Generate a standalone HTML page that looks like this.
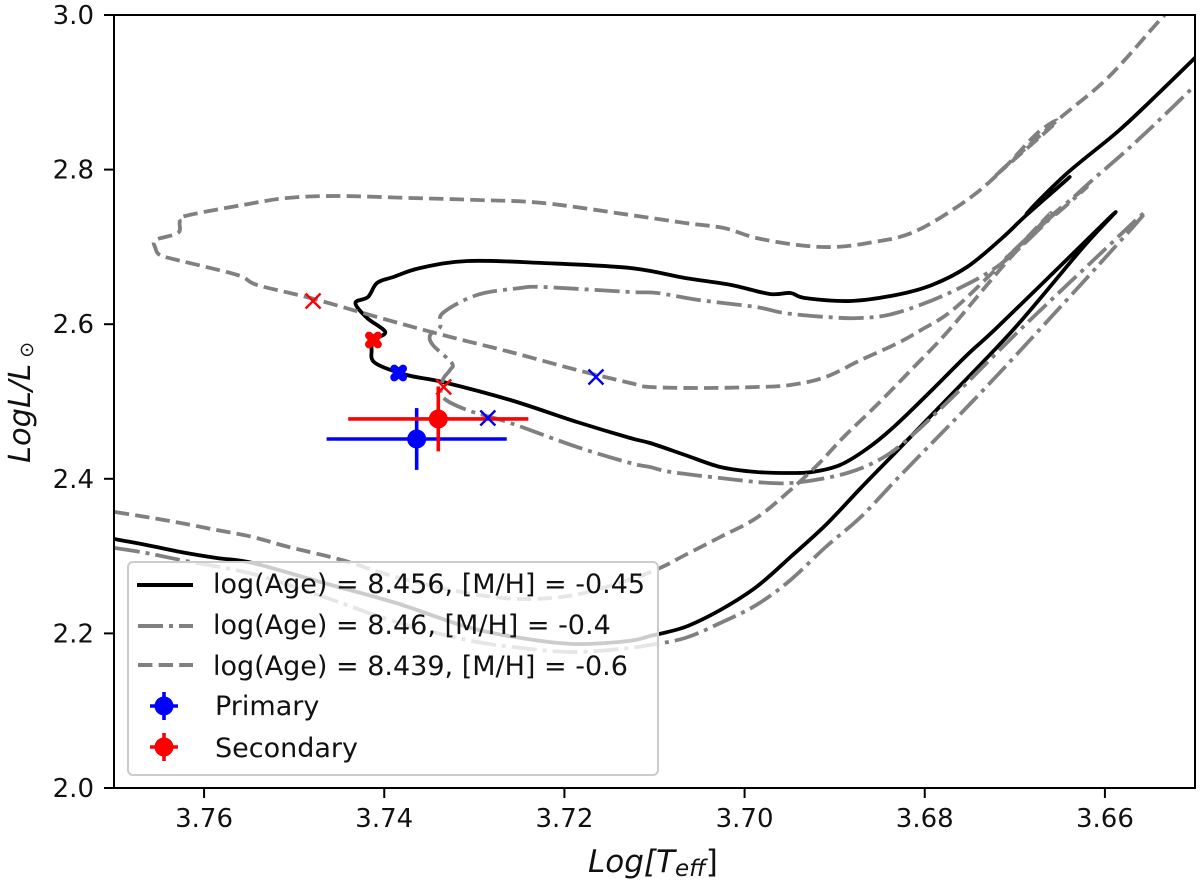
<!DOCTYPE html>
<html lang="en">
<head>
<meta charset="utf-8">
<title>HR diagram isochrones</title>
<style>
html,body{margin:0;padding:0;background:#fff;width:1200px;height:885px;overflow:hidden}
svg{display:block}
text{font-family:"DejaVu Sans","Liberation Sans",sans-serif;fill:#111}
</style>
</head>
<body>
<svg id="chart" xmlns="http://www.w3.org/2000/svg" width="1200" height="885" viewBox="0 0 1200 885">
  <defs><clipPath id="plot-clip"><rect x="114" y="15" width="1081" height="773"/></clipPath></defs>
  <rect x="114" y="15" width="1081" height="773" fill="#fff"/>
  <g id="series" clip-path="url(#plot-clip)"></g>
  <g id="markers" clip-path="url(#plot-clip)"></g>
  <g>
    <rect x="128" y="562" width="530" height="213" rx="5" ry="5" fill="#fff" fill-opacity="0.8" stroke="#ccc" stroke-width="2"/>
    <line x1="137" y1="585" x2="193" y2="585" stroke="#000" stroke-width="4"/>
    <text x="213" y="593" font-size="27">log(Age) = 8.456, [M/H] = -0.45</text>
    <line x1="138" y1="626" x2="193" y2="626" stroke="#808080" stroke-width="4" stroke-dasharray="25 6 4 6"/>
    <text x="213" y="634" font-size="27">log(Age) = 8.46, [M/H] = -0.4</text>
    <line x1="138" y1="665" x2="193" y2="665" stroke="#808080" stroke-width="4" stroke-dasharray="14.4 6.2"/>
    <text x="213" y="675" font-size="27">log(Age) = 8.439, [M/H] = -0.6</text>
    <g>
      <line x1="164" y1="692" x2="164" y2="720" stroke="#00f" stroke-width="3.6"/>
      <line x1="150" y1="706" x2="178" y2="706" stroke="#00f" stroke-width="3.6"/>
      <circle cx="164" cy="706" r="9.5" fill="#00f"/>
    </g>
    <text x="215" y="715" font-size="27">Primary</text>
    <g>
      <line x1="164" y1="733" x2="164" y2="761" stroke="#f00" stroke-width="3.6"/>
      <line x1="150" y1="747" x2="178" y2="747" stroke="#f00" stroke-width="3.6"/>
      <circle cx="164" cy="747" r="9.5" fill="#f00"/>
    </g>
    <text x="215" y="757" font-size="27">Secondary</text>
  </g>
  <rect x="114" y="15" width="1081" height="773" fill="none" stroke="#000" stroke-width="2"/>
  <g id="ticks"></g>
  <text x="588" y="872" font-size="31" font-style="italic">Log[T<tspan dy="4" font-size="23">eff</tspan><tspan dy="-4" font-style="normal">]</tspan></text>
  <text transform="translate(30,463) rotate(-90)" font-size="30.5" font-style="italic">LogL/L<tspan dx="6" dy="3" font-size="19" font-style="normal">⊙</tspan></text>
</svg>
<script>
const xTicks = [3.76, 3.74, 3.72, 3.70, 3.68, 3.66];
const xTickLabels = ['3.76', '3.74', '3.72', '3.70', '3.68', '3.66'];
const yTicks = [2.0, 2.2, 2.4, 2.6, 2.8, 3.0];
const yTickLabels = ['2.0', '2.2', '2.4', '2.6', '2.8', '3.0'];

const blackTeff = [3.7700,3.7664,3.7626,3.7586,3.7546,3.7467,3.7387,3.7308,3.7248,3.7189,3.7129,3.7105,3.7066,3.7027,3.6987,3.6949,3.6910,3.6871,3.6832,3.6773,3.6699,3.6624,3.6588,3.6628,3.6718,3.6753,3.6792,3.6832,3.6863,3.6894,3.6925,3.6949,3.6987,3.7027,3.7066,3.7105,3.7127,3.7186,3.7260,3.7335,3.7375,3.7410,3.7414,3.7412,3.7399,3.7419,3.7432,3.7418,3.7408,3.7390,3.7360,3.7307,3.7224,3.7127,3.7066,3.7015,3.6972,3.6949,3.6933,3.6882,3.6832,3.6792,3.6753,3.6714,3.6687,3.6639,3.6687,3.6643,3.6585,3.6539,3.6499];
const blackLogL = [2.3221,2.3144,2.3053,2.2975,2.2911,2.2652,2.2393,2.2083,2.1940,2.1863,2.1902,2.1966,2.2083,2.2303,2.2600,2.2988,2.3402,2.3881,2.4347,2.5058,2.5964,2.6999,2.7451,2.6999,2.5977,2.5602,2.5149,2.4696,2.4398,2.4179,2.4088,2.4075,2.4088,2.4153,2.4308,2.4463,2.4528,2.4735,2.5019,2.5252,2.5343,2.5498,2.5666,2.5796,2.5899,2.6080,2.6274,2.6352,2.6533,2.6611,2.6727,2.6818,2.6792,2.6727,2.6598,2.6507,2.6391,2.6404,2.6339,2.6300,2.6378,2.6507,2.6740,2.7115,2.7413,2.7904,2.7426,2.7943,2.8499,2.9004,2.9457];

const dashdotTeff = [3.7699,3.7664,3.7626,3.7546,3.7467,3.7387,3.7308,3.7248,3.7189,3.7129,3.7105,3.7066,3.7027,3.6987,3.6949,3.6910,3.6871,3.6832,3.6792,3.6753,3.6714,3.6675,3.6609,3.6555,3.6609,3.6691,3.6769,3.6816,3.6847,3.6886,3.6937,3.6972,3.7027,3.7082,3.7105,3.7127,3.7186,3.7260,3.7308,3.7335,3.7335,3.7327,3.7325,3.7346,3.7349,3.7338,3.7335,3.7297,3.7249,3.7224,3.7127,3.7097,3.7051,3.6987,3.6956,3.6910,3.6871,3.6832,3.6773,3.6714,3.6655,3.6711,3.6661,3.6620,3.6654,3.6620,3.6578,3.6542,3.6496];
const dashdotLogL = [2.3105,2.3040,2.2950,2.2768,2.2471,2.2147,2.1915,2.1811,2.1759,2.1811,2.1850,2.1940,2.2135,2.2367,2.2691,2.3118,2.3506,2.3984,2.4463,2.4929,2.5407,2.5899,2.6740,2.7451,2.6869,2.5964,2.5058,2.4541,2.4269,2.4075,2.3959,2.3946,2.4010,2.4088,2.4153,2.4204,2.4411,2.4722,2.4890,2.5058,2.5278,2.5407,2.5498,2.5731,2.5860,2.5964,2.6145,2.6378,2.6468,2.6481,2.6417,2.6404,2.6313,2.6222,2.6145,2.6093,2.6080,2.6145,2.6404,2.6792,2.7439,2.6843,2.7387,2.7775,2.7426,2.7801,2.8228,2.8616,2.9133];

const dashedTeff = [3.7699,3.7664,3.7626,3.7586,3.7546,3.7506,3.7447,3.7387,3.7308,3.7248,3.7189,3.7129,3.7094,3.7066,3.7027,3.6987,3.6949,3.6917,3.6890,3.6851,3.6812,3.6773,3.6714,3.6660,3.6714,3.6769,3.6804,3.6832,3.6871,3.6910,3.6949,3.6987,3.7046,3.7105,3.7127,3.7186,3.7260,3.7335,3.7408,3.7482,3.7541,3.7563,3.7630,3.7649,3.7654,3.7654,3.7629,3.7627,3.7621,3.7557,3.7508,3.7452,3.7371,3.7297,3.7224,3.7127,3.7066,3.7023,3.6987,3.6941,3.6902,3.6863,3.6812,3.6753,3.6714,3.6675,3.6655,3.6722,3.6655,3.6597,3.6539,3.6522];
const dashedLogL = [2.3570,2.3506,2.3428,2.3338,2.3247,2.3118,2.2950,2.2730,2.2523,2.2445,2.2497,2.2691,2.2846,2.3014,2.3247,2.3493,2.3855,2.4204,2.4541,2.4981,2.5446,2.5925,2.6740,2.7439,2.6792,2.6184,2.5925,2.5744,2.5537,2.5317,2.5213,2.5188,2.5175,2.5188,2.5239,2.5407,2.5640,2.5860,2.6093,2.6339,2.6507,2.6636,2.6831,2.6895,2.6986,2.7089,2.7180,2.7322,2.7400,2.7542,2.7633,2.7658,2.7633,2.7607,2.7568,2.7413,2.7309,2.7244,2.7115,2.7025,2.6999,2.7050,2.7193,2.7607,2.7995,2.8473,2.8603,2.7917,2.8616,2.9185,2.9935,3.0129];

const primaryTeff = 3.7364;
const primaryLogL = 2.4515;
const primaryTeffErr = 0.01;
const primaryLogLErr = 0.04;
const secondaryTeff = 3.7340;
const secondaryLogL = 2.4774;
const secondaryTeffErr = 0.01;
const secondaryLogLErr = 0.042;

const filledTeff = [3.7384, 3.7412];
const filledLogL = [2.5369, 2.5796];
const crossTeff = [3.7165, 3.7285, 3.7479, 3.7334];
const crossLogL = [2.5317, 2.4787, 2.6300, 2.5188];

const NS = 'http://www.w3.org/2000/svg';
function xScale(t) { return 114 + (3.77 - t) * 1081 / 0.12; }
function yScale(l) { return 788 - (l - 2.0) * 773; }
function make(tag, parent, props) {
  const el = document.createElementNS(NS, tag);
  for (const k in props) el.setAttribute(k, props[k]);
  parent.appendChild(el);
  return el;
}
function smoothPath(ts, ls) {
  const px = ts.map(xScale);
  const py = ls.map(yScale);
  let d = 'M' + px[0].toFixed(1) + ' ' + py[0].toFixed(1);
  for (let i = 0; i < px.length - 1; i++) {
    const a = Math.max(i - 1, 0), b = Math.min(i + 2, px.length - 1);
    const c1x = px[i] + (px[i + 1] - px[a]) / 6;
    const c1y = py[i] + (py[i + 1] - py[a]) / 6;
    const c2x = px[i + 1] - (px[b] - px[i]) / 6;
    const c2y = py[i + 1] - (py[b] - py[i]) / 6;
    d += 'C' + c1x.toFixed(1) + ' ' + c1y.toFixed(1) + ' ' + c2x.toFixed(1) + ' ' + c2y.toFixed(1) + ' ' + px[i + 1].toFixed(1) + ' ' + py[i + 1].toFixed(1);
  }
  return d;
}

const seriesG = document.getElementById('series');
const markersG = document.getElementById('markers');
const ticksG = document.getElementById('ticks');

const lineBlack = make('path', seriesG, { d: smoothPath(blackTeff, blackLogL), fill: 'none', stroke: '#000', 'stroke-width': 3.8, 'stroke-linejoin': 'round' });


const lineDashdot = make('path', seriesG, { d: smoothPath(dashdotTeff, dashdotLogL), fill: 'none', stroke: '#808080', 'stroke-width': 3.8, 'stroke-dasharray': '25 6 4 6', 'stroke-linejoin': 'round' });


const lineDashed = make('path', seriesG, { d: smoothPath(dashedTeff, dashedLogL), fill: 'none', stroke: '#808080', 'stroke-width': 3.8, 'stroke-dasharray': '14.4 6.2', 'stroke-linejoin': 'round' });



function drawError(t, l, te, le, color, label) {
  const g = make('g', markersG, {});
  
  
  make('line', g, { x1: xScale(t + te), y1: yScale(l), x2: xScale(t - te), y2: yScale(l), stroke: color, 'stroke-width': 3.6 });
  make('line', g, { x1: xScale(t), y1: yScale(l - le), x2: xScale(t), y2: yScale(l + le), stroke: color, 'stroke-width': 3.6 });
  make('circle', g, { cx: xScale(t), cy: yScale(l), r: 9.5, fill: color });
}
drawError(primaryTeff, primaryLogL, primaryTeffErr, primaryLogLErr, '#00f', 'primary-point');
drawError(secondaryTeff, secondaryLogL, secondaryTeffErr, secondaryLogLErr, '#f00', 'secondary-point');

filledTeff.forEach(function (t, i) {
  const cx = xScale(t), cy = yScale(filledLogL[i]), s = 4.4;
  const color = i === 0 ? '#00f' : '#f00';
  const d = 'M' + (cx - s) + ' ' + (cy - s) + 'L' + (cx + s) + ' ' + (cy + s) + 'M' + (cx + s) + ' ' + (cy - s) + 'L' + (cx - s) + ' ' + (cy + s);
  const p = make('path', markersG, { d: d, stroke: color, 'stroke-width': 8, 'stroke-linecap': 'round', fill: 'none' });
  
  
});
crossTeff.forEach(function (t, i) {
  const cx = xScale(t), cy = yScale(crossLogL[i]), s = 7.5;
  const color = i < 2 ? '#00f' : '#f00';
  const d = 'M' + (cx - s) + ' ' + (cy - s) + 'L' + (cx + s) + ' ' + (cy + s) + 'M' + (cx + s) + ' ' + (cy - s) + 'L' + (cx - s) + ' ' + (cy + s);
  const p = make('path', markersG, { d: d, stroke: color, 'stroke-width': 2.4, fill: 'none' });
  
  
});

xTicks.forEach(function (t, i) {
  const x = xScale(t);
  const tick = make('line', ticksG, { x1: x, y1: 788, x2: x, y2: 798, stroke: '#000', 'stroke-width': 2 });
  
  
  const label = make('text', ticksG, { x: x, y: 827, 'text-anchor': 'middle', 'font-size': 26 });
  
  
  label.textContent = xTickLabels[i];
});
yTicks.forEach(function (l, i) {
  const y = yScale(l);
  const tick = make('line', ticksG, { x1: 104, y1: y, x2: 114, y2: y, stroke: '#000', 'stroke-width': 2 });
  
  
  const label = make('text', ticksG, { x: 94, y: y + 9, 'text-anchor': 'end', 'font-size': 26 });
  
  
  label.textContent = yTickLabels[i];
});
</script>
</body>
</html>
